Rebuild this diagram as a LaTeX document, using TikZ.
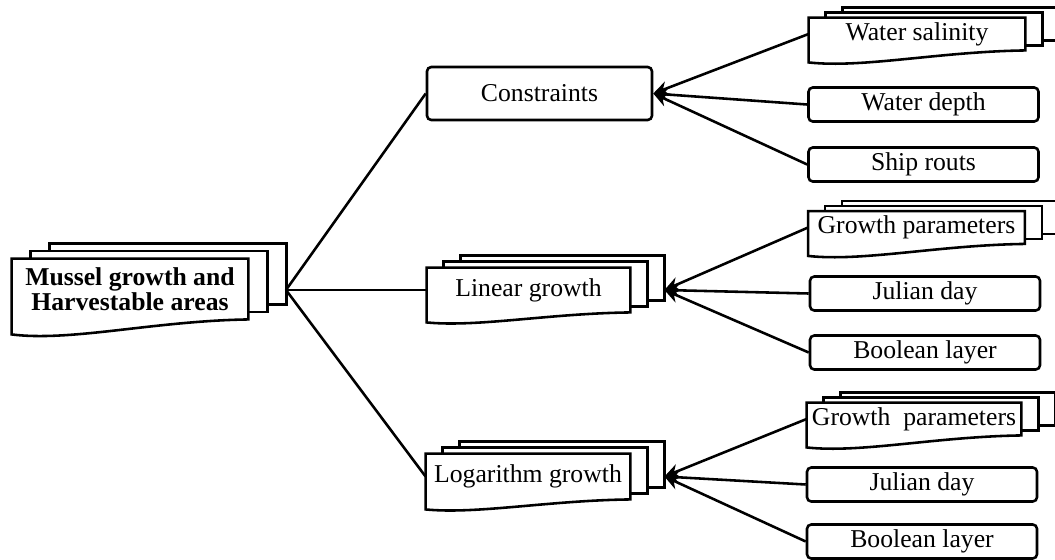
\documentclass[tikz,border=0pt]{standalone}
\usepackage{fontspec}
\setmainfont{Liberation Serif}
\usepackage{tikz}
\usetikzlibrary{arrows.meta,calc,backgrounds}

\newcommand{\upx}{0.467pt}
% stack of sheets behind a node: name, dx, dy, drop of the wavy edge
\newcommand{\docstack}[4]{%
 \begin{scope}[on background layer]
 \draw[sheet] ($(#1.north west)+(2*#2,2*#3)$) rectangle ($(#1.south east)+(2*#2,2*#3)$);
 \draw[sheet] ($(#1.north west)+(#2,#3)$) rectangle ($(#1.south east)+(#2,#3)$);
 \draw[sheet] ($(#1.south west)+(0,#4)$)
   .. controls ($(#1.south west)!0.25!(#1.south east)+(0,1.5*#4)$)
   and ($(#1.south west)!0.6!(#1.south east)+(0,0.1*#4)$) .. (#1.south east)
   -- (#1.north east) -- (#1.north west) -- cycle;
 \end{scope}}

\begin{document}
\begin{tikzpicture}[x=0.467pt,y=-0.467pt,
  every node/.style={font=\fontsize{12}{11.7}\selectfont},
  sheet/.style={draw,line width=1.2pt,fill=white},
  doc/.style={inner sep=0pt},
  box/.style={draw,line width=1.2pt,rounded corners=2pt,inner sep=0pt},
  leaf/.style={box,minimum width=230*\upx,minimum height=34*\upx},
  leafdoc/.style={doc,minimum width=216*\upx,minimum height=32*\upx},
  link/.style={line width=1.2pt},
  arr/.style={line width=1.2pt,-{Stealth[length=7pt,width=6.5pt]}}]
 \useasboundingbox (0,0) rectangle (1055,560);
 % root
 \node[doc,align=center,font=\fontsize{12}{11.7}\selectfont\bfseries,
   minimum width=236*\upx,minimum height=60*\upx] (mussel) at (130,289) {Mussel growth and\\Harvestable areas};
 \docstack{mussel}{19}{-7.5}{15}
 \coordinate (musselR) at (286,290);
 % first level
 \node[box,minimum width=225*\upx,minimum height=53*\upx] (cons) at (539.5,93.5) {Constraints};
 \node[doc,minimum width=203*\upx,minimum height=44*\upx] (lin) at (528.5,290) {Linear growth};
 \docstack{lin}{17}{-6}{10}
 \node[doc,minimum width=204*\upx,minimum height=45*\upx] (log) at (528,476.5) {Logarithm growth};
 \docstack{log}{17}{-6}{10}
 \coordinate (linR) at ($(lin.east)+(34,0)$);
 \coordinate (logR) at ($(log.east)+(34,0)$);
 % leaves
 \node[leafdoc] (sal) at (917,34) {Water salinity};
 \docstack{sal}{17}{-5}{12}
 \node[leaf] (depth) at (923.5,104.5) {Water depth};
 \node[leaf] (ship) at (923.5,164.5) {Ship routs};
 \node[leafdoc] (gpar1) at (916.5,227.5) {Growth parameters};
 \docstack{gpar1}{17}{-5}{12}
 \node[leaf] (jul1) at (925,293.5) {Julian day};
 \node[leaf] (bool1) at (925,352.5) {Boolean layer};
 \node[leafdoc,minimum width=214*\upx] (gpar2) at (914,419) {Growth~ parameters};
 \docstack{gpar2}{17}{-5}{12}
 \node[leaf] (jul2) at (922,484.5) {Julian day};
 \node[leaf] (bool2) at (922,541.5) {Boolean layer};
 % connectors
 \draw[link] (musselR) -- (cons.west);
 \draw[link] (musselR) -- (lin.west);
 \draw[link] (musselR) -- (log.west);
 \draw[arr] (sal.west) -- (cons.east);
 \draw[arr] (depth.west) -- (cons.east);
 \draw[arr] (ship.west) -- (cons.east);
 \draw[arr] (gpar1.west) -- (linR);
 \draw[arr] (jul1.west) -- (linR);
 \draw[arr] (bool1.west) -- (linR);
 \draw[arr] (gpar2.west) -- (logR);
 \draw[arr] (jul2.west) -- (logR);
 \draw[arr] (bool2.west) -- (logR);
\end{tikzpicture}
\end{document}
